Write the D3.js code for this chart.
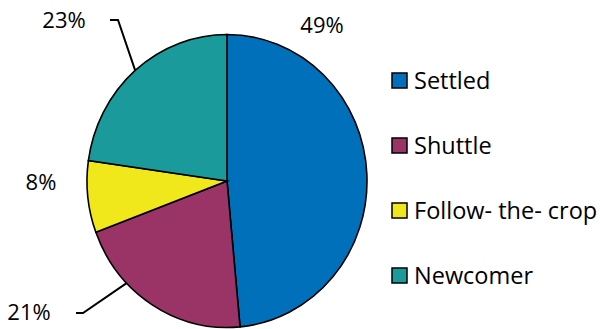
<!DOCTYPE html>
<html>
<head>
<meta charset="utf-8">
<script src="https://cdn.jsdelivr.net/npm/d3@7"></script>
<style>
  body { margin: 0; background: #fff; }
  text { font-family: "Open Sans", sans-serif; fill: #000; }
</style>
</head>
<body>
<div id="chart"></div>
<script>
// data
var categories = ["Settled", "Shuttle", "Follow- the- crop", "Newcomer"];
var shares = [49, 21, 8, 23];
var colors = ["#0070ba", "#9a3366", "#f0e81a", "#1a9a9a"];

// chart size
var width = 600, height = 329;
var cx = 227, cy = 181, r = 140, squash = 146.5 / 140;

var svg = d3.select("#chart")
    .append("svg")
    .attr("width", width)
    .attr("height", height);

var pie = d3.pie().sort(null).value(function(d) { return d; });
var arcs = pie(shares);
var arc = d3.arc().innerRadius(0).outerRadius(r);

var g = svg.append("g")
    .attr("transform", "translate(" + cx + "," + cy + ") scale(1," + squash + ")");

g.selectAll("path")
    .data(arcs)
    .enter().append("path")
    .attr("d", arc)
    .attr("fill", function(d, i) { return colors[i]; })
    .attr("stroke", "#000")
    .attr("stroke-width", 1.6)
    .attr("vector-effect", "non-scaling-stroke");

// point on the rim, in page coordinates
function rim(angle) {
    return [cx + r * Math.sin(angle), cy - r * squash * Math.cos(angle)];
}

// label placement (where Excel left them), leader only for some
var labelPos = [
    {x: 322, y: 33, leader: false},
    {x: 29, y: 320, leader: true, elbow: [83, 313], rimShift: 0.24},
    {x: 41, y: 190, leader: false},
    {x: 64, y: 28, leader: true, elbow: [110, 20], rimShift: 0.0}
];

arcs.forEach(function(d, i) {
    var p = labelPos[i];
    svg.append("text")
        .attr("x", p.x)
        .attr("y", p.y)
        .attr("text-anchor", "middle")
        .style("font-size", "22px")
        .text(d.data + "%");
    if (p.leader) {
        var end = rim((d.startAngle + d.endAngle) / 2 + p.rimShift);
        var pts;
        if (i == 3) pts = [p.elbow, [p.elbow[0] + 8, p.elbow[1]], end];
        else pts = [[p.elbow[0] - 7, p.elbow[1]], p.elbow, end];
        svg.append("path")
            .attr("d", d3.line()(pts))
            .attr("fill", "none")
            .attr("stroke", "#000")
            .attr("stroke-width", 2);
    }
});

// legend
var legend = svg.append("g")
    .attr("transform", "translate(392,73)");

var item = legend.selectAll("g")
    .data(categories)
    .enter().append("g")
    .attr("transform", function(d, i) { return "translate(0," + (i * 65) + ")"; });

item.append("rect")
    .attr("width", 15)
    .attr("height", 15)
    .attr("fill", function(d, i) { return colors[i]; })
    .attr("stroke", "#000")
    .attr("stroke-width", 1.5);

item.append("text")
    .attr("x", 22)
    .attr("y", 16)
    .style("font-size", "23.5px")
    .text(function(d) { return d; });
</script>
</body>
</html>
